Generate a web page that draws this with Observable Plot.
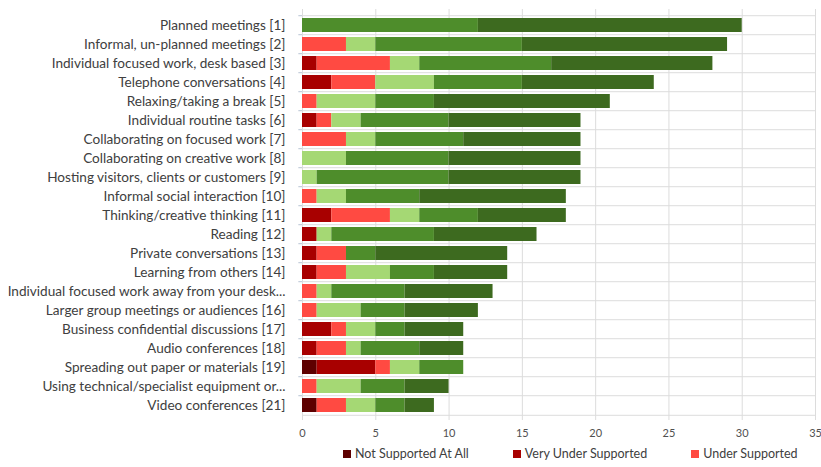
<!DOCTYPE html>
<html>
<head>
<meta charset="utf-8">
<script src="https://cdn.jsdelivr.net/npm/d3@7"></script>
<script src="https://cdn.jsdelivr.net/npm/@observablehq/plot@0.6"></script>
<style>
  html, body { margin: 0; padding: 0; background: #fff; }
  #chart { width: 821px; }
  .legend { display: flex; gap: 44px; padding-left: 343px; margin-top: 4px;
            font: 12.5px Lato, sans-serif; color: #404040; }
  .legend span.sw { display: inline-block; width: 8px; height: 8px; margin-right: 4px; vertical-align: 0px; }
</style>
</head>
<body>
<div id="chart"></div>
<script>
// Activities, top to bottom
const activities = [
  "Planned meetings [1]",
  "Informal, un-planned meetings [2]",
  "Individual focused work, desk based [3]",
  "Telephone conversations [4]",
  "Relaxing/taking a break [5]",
  "Individual routine tasks [6]",
  "Collaborating on focused work [7]",
  "Collaborating on creative work [8]",
  "Hosting visitors, clients or customers [9]",
  "Informal social interaction [10]",
  "Thinking/creative thinking [11]",
  "Reading [12]",
  "Private conversations [13]",
  "Learning from others [14]",
  "Individual focused work away from your desk...",
  "Larger group meetings or audiences [16]",
  "Business confidential discussions [17]",
  "Audio conferences [18]",
  "Spreading out paper or materials [19]",
  "Using technical/specialist equipment or...",
  "Video conferences [21]"
];

// Support levels, stacked left to right
const levels = [
  "Not Supported At All",
  "Very Under Supported",
  "Under Supported",
  "Supported",
  "Well Supported",
  "Very Well Supported"
];
const levelColors = ["#5e0000", "#a80000", "#ff4a42", "#a5d874", "#4e8d2b", "#3d6a1f"];

// Response counts per level, one array per level (same order as activities)
const notSupportedAtAll  = [0,0,0,0,0,0,0,0,0,0,0,0,0,0,0,0,0,0,1,0,1];
const veryUnderSupported = [0,0,1,2,0,1,0,0,0,0,2,1,1,1,0,0,2,1,4,0,0];
const underSupported     = [0,3,5,3,1,1,3,0,0,1,4,0,2,2,1,1,1,2,1,1,2];
const supported          = [0,2,2,4,4,2,2,3,1,2,2,1,0,3,1,3,2,1,2,3,2];
const wellSupported      = [12,10,9,6,4,6,6,7,9,5,4,7,2,3,5,3,2,4,3,3,2];
const veryWellSupported  = [18,14,11,9,12,9,8,9,9,10,6,7,9,5,6,5,4,3,0,3,2];

const xTicks = [0, 5, 10, 15, 20, 25, 30, 35];

const series = [notSupportedAtAll, veryUnderSupported, underSupported, supported, wellSupported, veryWellSupported];
const rows = [];
activities.forEach((a, i) => {
  levels.forEach((lvl, j) => {
    rows.push({activity: a, level: lvl, count: series[j][i]});
  });
});

const W = 821, H = 442, mTop = 9, mBottom = 22, mLeft = 302, mRight = 6;
const step = (H - mTop - mBottom) / activities.length;
const grid = "#dcdcdc";

const chart = Plot.plot({
  width: W,
  height: H,
  marginTop: mTop,
  marginBottom: mBottom,
  marginLeft: mLeft,
  marginRight: mRight,
  style: {fontFamily: "Lato, sans-serif", color: "#404040", background: "#fff"},
  x: {domain: [0, 35], ticks: xTicks, tickSize: 0, tickPadding: 9, label: null},
  y: {domain: activities, paddingInner: 0.28, paddingOuter: 0.14, tickSize: 0, tickPadding: 17, label: null},
  color: {domain: levels, range: levelColors},
  marks: [
    Plot.ruleX(xTicks, {stroke: grid, strokeWidth: 1}),
    Plot.ruleY(activities, {y: d => d, dy: -step / 2, stroke: grid}),
    Plot.ruleY([activities[activities.length - 1]], {y: d => d, dy: step / 2, stroke: grid}),
    // short tick marks at the row boundaries on the left edge
    Plot.ruleY(activities, {y: d => d, dy: -step / 2, x1: -0.25, x2: 0, stroke: "#b8c4d4"}),
    Plot.barX(rows, Plot.stackX({
      y: "activity",
      x: "count",
      fill: "level",
      order: levels
    })),
    Plot.axisY({tickSize: 0, tickPadding: 17, fontSize: 13.6, fill: "#404040"}),
    Plot.axisX({ticks: xTicks, tickSize: 0, tickPadding: 9, fontSize: 11, fill: "#505050", label: null})
  ]
});
document.getElementById("chart").appendChild(chart);

// Legend (first three levels)
const legend = d3.select("#chart").append("div").attr("class", "legend");
levels.slice(0, 3).forEach((lvl, i) => {
  const item = legend.append("div");
  item.append("span").attr("class", "sw").style("background", levelColors[i]);
  item.append("span").text(lvl);
});
</script>
</body>
</html>
